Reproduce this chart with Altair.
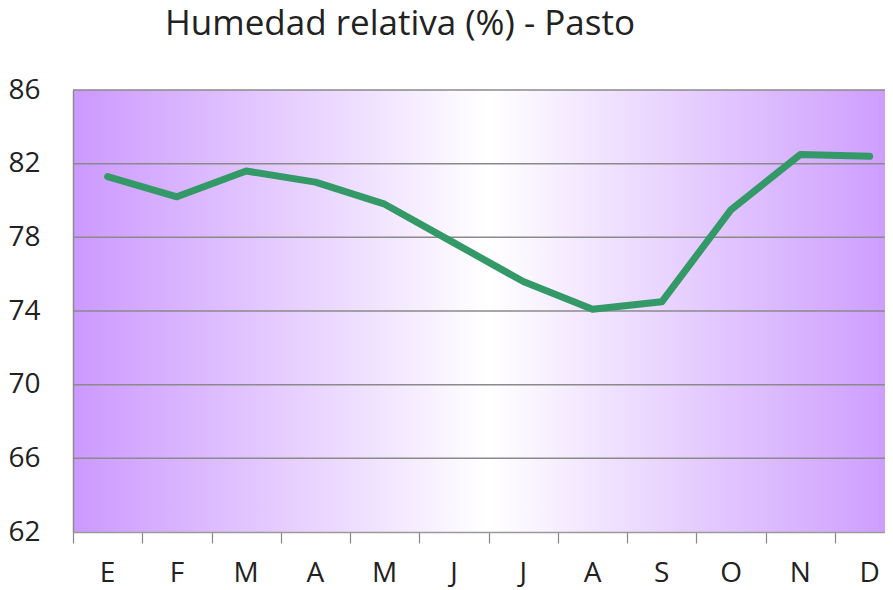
import altair as alt
import pandas as pd

# --- data ---
months = ["E", "F", "M", "A", "M", "J", "J", "A", "S", "O", "N", "D"]
humidity = [81.3, 80.2, 81.6, 81.0, 79.8, 77.7, 75.6, 74.1, 74.5, 79.5, 82.5, 82.4]
y_ticks = [62, 66, 70, 74, 78, 82, 86]
grid_values = [66, 70, 74, 78, 82, 86]
title_text = "Humedad relativa (%) - Pasto"

W, H = 812, 442
BAND = 69.27
XMIN = -0.5
XMAX = -0.5 + W / BAND

df = pd.DataFrame({"idx": list(range(len(months))), "mes": months, "hr": humidity})
grid_df = pd.DataFrame({"g": grid_values})
bg_df = pd.DataFrame({"a": [0]})

x_scale = alt.Scale(domain=[XMIN, XMAX], nice=False, zero=False)
y_scale = alt.Scale(domain=[62, 86], nice=False, zero=False)

# tick marks sit on the month boundaries
x_tick_values = [-0.5 + i for i in range(12)]

FONT = "Open Sans"
TXT = "#222222"
GRID = "#8a8a8a"

# background gradient (full plot extends slightly beyond the visible area)
full_w = 12 * BAND
center = (full_w / 2) / W
t = (W - full_w / 2) / (full_w / 2)
edge = (204, 153, 255)
right_col = "#%02x%02x%02x" % tuple(round(255 + (e - 255) * t) for e in edge)

bg = alt.Chart(bg_df).mark_rect(
    color=alt.Gradient(
        gradient="linear",
        x1=0, x2=1, y1=0, y2=0,
        stops=[
            alt.GradientStop(color="#cc99ff", offset=0),
            alt.GradientStop(color="#ffffff", offset=center),
            alt.GradientStop(color=right_col, offset=1),
        ],
    )
).encode(
    x=alt.datum(XMIN, scale=x_scale),
    x2=alt.datum(XMAX),
    y=alt.datum(62, scale=y_scale),
    y2=alt.datum(86),
)

grid = alt.Chart(grid_df).mark_rule(color=GRID, strokeWidth=1.5).encode(
    y=alt.Y("g:Q", scale=y_scale),
    x=alt.datum(XMIN, scale=x_scale),
    x2=alt.datum(XMAX),
)

line = alt.Chart(df).mark_line(
    color="#339966", strokeWidth=7, strokeJoin="round", strokeCap="round"
).encode(
    x=alt.X(
        "idx:Q",
        scale=x_scale,
        title=None,
        axis=alt.Axis(
            values=x_tick_values,
            labels=False,
            tickSize=11,
            tickColor="#888888",
            tickWidth=1.2,
            domainColor="#9a9a9a",
            domainWidth=1.5,
            grid=False,
            zindex=1,
        ),
    ),
    y=alt.Y(
        "hr:Q",
        scale=y_scale,
        title=None,
        axis=alt.Axis(
            values=y_ticks,
            ticks=False,
            labelFont=FONT,
            labelFontSize=28,
            labelColor=TXT,
            labelPadding=33,
            domainColor="#8a8a8a",
            domainWidth=1.5,
            grid=False,
            zindex=1,
        ),
    ),
)

month_labels = alt.Chart(df).mark_text(
    font=FONT, fontSize=28, color=TXT, baseline="alphabetic", align="center"
).encode(
    x=alt.X("idx:Q", scale=x_scale),
    y=alt.value(H + 50),
    text="mes:N",
)

chart = alt.layer(bg, grid, line, month_labels).properties(
    width=W,
    height=H,
    title=alt.TitleParams(
        title_text,
        anchor="start",
        frame="group",
        dx=92,
        offset=34,
        font=FONT,
        fontSize=35,
        fontWeight="normal",
        color=TXT,
    ),
    autosize=alt.AutoSizeParams(type="none"),
    padding={"left": 65, "top": 82, "right": 0, "bottom": 58},
).configure_view(stroke=None)

chart.save("out.html", embed_options={"renderer": "svg", "actions": False})
